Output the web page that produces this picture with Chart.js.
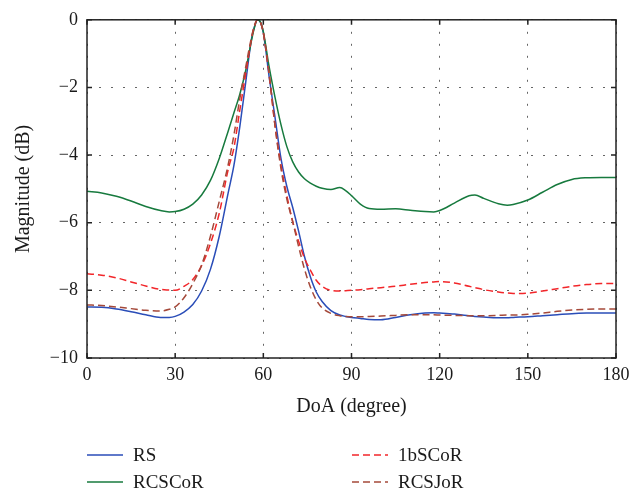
<!DOCTYPE html>
<html>
<head>
<meta charset="utf-8">
<script src="https://cdn.jsdelivr.net/npm/chart.js@4.4.0/dist/chart.umd.min.js"></script>
<style>
  html, body { margin: 0; padding: 0; background: #fff; }
  #wrap { width: 642px; height: 494px; }
</style>
</head>
<body>
<div id="wrap"><canvas id="chart" width="642" height="494"></canvas></div>
<script>
//Direction of arrival (degree)
const doa = [0, 5, 10, 15, 20, 25, 28, 30, 33, 36, 39, 42, 45, 48, 50, 52, 54, 56, 57, 58, 59, 60,
  62, 64, 66, 68, 70, 72, 74, 76, 78, 80, 83, 86, 88, 90, 93, 96, 100, 105, 110, 115, 118, 120,
  125, 130, 132, 135, 140, 143, 145, 150, 155, 160, 165, 170, 175, 180];
//Magnitude (dB) for each method
const rs = [-8.49, -8.5, -8.55, -8.63, -8.72, -8.8, -8.8, -8.77, -8.64, -8.42, -8.02, -7.38, -6.4, -5.13, -4.3, -3.16, -1.85, -0.55, -0.2, 0, -0.07, -0.38,
  -1.7, -2.9, -4.1, -4.93, -5.55, -6.25, -7.0, -7.6, -8.05, -8.33, -8.6, -8.73, -8.77, -8.8, -8.83, -8.86, -8.87, -8.8, -8.72, -8.67, -8.66, -8.67,
  -8.7, -8.75, -8.77, -8.79, -8.81, -8.81, -8.8, -8.78, -8.75, -8.72, -8.69, -8.67, -8.67, -8.67];
const rcscor = [-5.07, -5.12, -5.22, -5.36, -5.52, -5.64, -5.68, -5.67, -5.6, -5.45, -5.18, -4.75, -4.1, -3.3, -2.75, -2.2, -1.5, -0.6, -0.22, 0, -0.06, -0.35,
  -1.4, -2.3, -3.1, -3.75, -4.2, -4.5, -4.7, -4.83, -4.92, -4.98, -5.02, -4.96, -5.05, -5.2, -5.45, -5.58, -5.6, -5.59, -5.63, -5.67, -5.68, -5.64,
  -5.42, -5.2, -5.18, -5.28, -5.44, -5.48, -5.46, -5.33, -5.1, -4.87, -4.72, -4.67, -4.66, -4.66];
const onebscor = [-7.51, -7.55, -7.63, -7.75, -7.87, -7.97, -7.99, -8.0, -7.88, -7.68, -7.27, -6.62, -5.72, -4.44, -3.78, -2.67, -1.6, -0.55, -0.18, 0, -0.07, -0.38,
  -1.65, -3.15, -4.3, -5.2, -5.97, -6.55, -7.05, -7.4, -7.7, -7.88, -8.0, -8.02, -8.01, -8.0, -7.98, -7.95, -7.92, -7.88, -7.82, -7.77, -7.75, -7.74,
  -7.78, -7.88, -7.92, -7.98, -8.05, -8.08, -8.09, -8.08, -8.02, -7.95, -7.88, -7.83, -7.8, -7.8];
const rcsjor = [-8.43, -8.45, -8.49, -8.54, -8.59, -8.61, -8.56, -8.49, -8.22, -7.8, -7.25, -6.4, -5.37, -4.3, -3.4, -2.33, -1.4, -0.5, -0.16, 0, -0.07, -0.4,
  -1.6, -3.15, -4.4, -5.3, -5.97, -6.7, -7.37, -7.9, -8.28, -8.52, -8.68, -8.75, -8.77, -8.78, -8.78, -8.77, -8.76, -8.74, -8.72, -8.72, -8.72, -8.73,
  -8.74, -8.75, -8.75, -8.75, -8.74, -8.73, -8.73, -8.71, -8.67, -8.62, -8.58, -8.56, -8.55, -8.55];

const serif = "'Liberation Serif', 'DejaVu Serif', serif";
const toPoints = (ys) => doa.map((x, i) => ({ x: x, y: ys[i] }));

//frame, inward tick marks and the legend under the plot
const framePlugin = {
  id: "frame",
  afterDatasetsDraw(chart) {
    const { ctx, chartArea: a, scales } = chart;
    ctx.save();
    ctx.strokeStyle = "#222";
    ctx.lineWidth = 1.5;
    ctx.setLineDash([]);
    ctx.beginPath();
    for (let v = 0; v <= 180; v += 30) {
      const px = scales.x.getPixelForValue(v);
      ctx.moveTo(px, a.bottom); ctx.lineTo(px, a.bottom - 5);
      ctx.moveTo(px, a.top); ctx.lineTo(px, a.top + 5);
    }
    for (let v = -10; v <= 0; v += 2) {
      const py = scales.y.getPixelForValue(v);
      ctx.moveTo(a.left, py); ctx.lineTo(a.left + 5, py);
      ctx.moveTo(a.right, py); ctx.lineTo(a.right - 5, py);
    }
    ctx.stroke();
    ctx.strokeRect(a.left, a.top, a.right - a.left, a.bottom - a.top);
    ctx.restore();
  },
  afterDraw(chart) {
    const { ctx } = chart;
    const colX = [87, 352];
    const rowY = [455, 482];
    ctx.save();
    ctx.font = "19px " + serif;
    ctx.textBaseline = "middle";
    ctx.fillStyle = "#1a1a1a";
    chart.data.datasets.forEach((ds, i) => {
      const x = colX[Math.floor(i / 2)];
      const y = rowY[i % 2];
      ctx.strokeStyle = ds.borderColor;
      ctx.lineWidth = 1.5;
      ctx.setLineDash(ds.borderDash || []);
      ctx.beginPath();
      ctx.moveTo(x, y);
      ctx.lineTo(x + 36, y);
      ctx.stroke();
      ctx.fillText(ds.label, x + 46, y + 1);
    });
    ctx.restore();
  },
};

new Chart(document.getElementById("chart"), {
  type: "line",
  plugins: [framePlugin],
  data: {
    datasets: [
      { label: "RS", data: toPoints(rs), borderColor: "#2a4db8", order: 4 },
      { label: "RCSCoR", data: toPoints(rcscor), borderColor: "#177a3e", order: 3 },
      { label: "1bSCoR", data: toPoints(onebscor), borderColor: "#f2262a", borderDash: [7, 4], order: 2 },
      { label: "RCSJoR", data: toPoints(rcsjor), borderColor: "#a5493a", borderDash: [7, 4], order: 1 },
    ],
  },
  options: {
    responsive: false,
    animation: false,
    devicePixelRatio: 1,
    layout: { padding: { left: 0, right: 26, top: 13, bottom: 70 } },
    elements: {
      point: { radius: 0 },
      line: { borderWidth: 1.5, cubicInterpolationMode: "monotone", fill: false },
    },
    plugins: {
      legend: { display: false },
      tooltip: { enabled: false },
    },
    scales: {
      x: {
        type: "linear",
        min: 0,
        max: 180,
        afterFit: (scale) => { scale.height = 66; },
        ticks: { stepSize: 30, padding: 6, color: "#1a1a1a", font: { family: serif, size: 18 } },
        grid: { color: "#666", lineWidth: 1, drawTicks: false },
        border: { display: false, dash: [2, 10] },
        title: { display: true, text: "DoA (degree)", color: "#1a1a1a", padding: { top: 0, bottom: 5 }, font: { family: serif, size: 20 } },
      },
      y: {
        min: -10,
        max: 0,
        afterFit: (scale) => { scale.width = 87; },
        ticks: {
          stepSize: 2,
          padding: 9,
          color: "#1a1a1a",
          font: { family: serif, size: 18 },
          callback: (v) => String(v).replace("-", "\u2212"),
        },
        grid: { color: "#666", lineWidth: 1, drawTicks: false },
        border: { display: false, dash: [2, 10] },
        title: { display: true, text: "Magnitude (dB)", color: "#1a1a1a", padding: { top: 12, bottom: 0 }, font: { family: serif, size: 20 } },
      },
    },
  },
});
</script>
</body>
</html>
